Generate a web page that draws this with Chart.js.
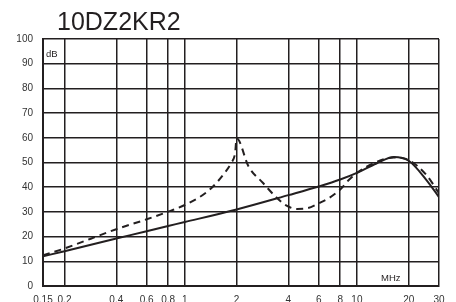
<!doctype html>
<html lang="en">
  <head>
    <title>10DZ2KR2</title>
    <style>
      body{
        margin: 0;
        background: #fff;
        overflow: hidden;
      }
      #graph{
        width: 456px;
        height: 302px;
      }
    </style>
  </head>
  <body>
    <div id="graph"><canvas id="attenuation" width="456" height="302"></canvas></div>
  </body>
  <script src="https://cdn.jsdelivr.net/npm/chart.js"></script>
<script>
  // frequency grid (MHz) and dB ticks
  const freqTicks = [0.15, 0.2, 0.4, 0.6, 0.8, 1, 2, 4, 6, 8, 10, 20, 30];
  const dbTicks = [0, 10, 20, 30, 40, 50, 60, 70, 80, 90, 100];

  // solid curve
  const solidFreq = [0.15, 0.2, 0.4, 0.6, 0.8, 1, 2, 4, 6, 8, 10, 13, 16.4, 20, 25.3, 30];
  const solidDb   = [12, 14.1, 19.2, 22.2, 24.3, 25.9, 31, 36.8, 40.3, 43.1, 45.8, 49.6, 52.2, 50.7, 43, 36];

  // dashed curve
  const dashFreq = [0.15, 0.2, 0.4, 0.6, 0.8, 1, 1.39, 1.7, 1.86, 1.96, 2, 2.35, 2.85, 3.37, 3.93, 4.5, 5.15, 6, 6.84, 8, 9, 10, 13, 16.4, 20, 25.3, 30];
  const dashDb   = [12.4, 15.2, 23, 27, 30.1, 32.8, 38.9, 45.7, 49.8, 53.8, 59.8, 48.3, 41.7, 36.2, 32.4, 31.2, 31.5, 33.5, 35.5, 39.1, 43, 45.8, 50.2, 52, 51, 45, 37.6];

  const ink = '#231f20';
  const font = "Arial, 'Liberation Sans', sans-serif";

  function pts(xs, ys){
    return xs.map((x, i) => ({x: x, y: ys[i]}));
  }

  // title + unit labels
  const labelsPlugin = {
    id: 'labels',
    afterDraw(chart){
      const ctx = chart.ctx;
      const a = chart.chartArea;
      ctx.save();
      ctx.fillStyle = ink;
      ctx.textBaseline = 'alphabetic';
      ctx.textAlign = 'left';
      ctx.font = '25px ' + font;
      ctx.fillText('10DZ2KR2', 57, 30);
      ctx.font = '9.5px ' + font;
      ctx.fillText('dB', a.left + 3, 57);
      ctx.fillText('MHz', 381, 281);
      ctx.restore();
    }
  };

  var myChart = new Chart(
    document.getElementById('attenuation'),
    {
      type: 'line',
      plugins: [labelsPlugin],
      data: {
        datasets: [
          {
            label: 'solid',
            data: pts(solidFreq, solidDb),
            borderColor: ink,
            borderWidth: 2,
            pointRadius: 0,
            cubicInterpolationMode: 'monotone'
          },
          {
            label: 'dashed',
            data: pts(dashFreq, dashDb),
            borderColor: ink,
            borderWidth: 2,
            borderDash: [7, 5],
            pointRadius: 0,
            cubicInterpolationMode: 'monotone'
          }
        ]
      },
      options: {
        responsive: false,
        animation: false,
        layout: {
          padding: {top: 39, right: 17, left: 3, bottom: 0}
        },
        scales: {
          x: {
            type: 'logarithmic',
            min: 0.15,
            max: 30,
            afterBuildTicks: (s) => { s.ticks = freqTicks.map(v => ({value: v})); },
            afterFit: (s) => { s.height = 16; },
            grid: {
              color: ink,
              lineWidth: 1.5,
              drawTicks: false
            },
            border: {color: ink, width: 2},
            ticks: {
              autoSkip: false,
              maxRotation: 0,
              padding: 8,
              color: '#333',
              font: {family: font, size: 10},
              callback: (v) => String(v)
            }
          },
          y: {
            min: 0,
            max: 100,
            afterBuildTicks: (s) => { s.ticks = dbTicks.map(v => ({value: v})); },
            afterFit: (s) => { s.width = 40; },
            grid: {
              color: ink,
              lineWidth: 1.5,
              drawTicks: false
            },
            border: {color: ink, width: 2},
            ticks: {
              padding: 10,
              color: '#333',
              font: {family: font, size: 10}
            }
          }
        },
        plugins: {
          legend: {display: false},
          tooltip: {enabled: false}
        }
      }
    }
  );
</script>
</html>
